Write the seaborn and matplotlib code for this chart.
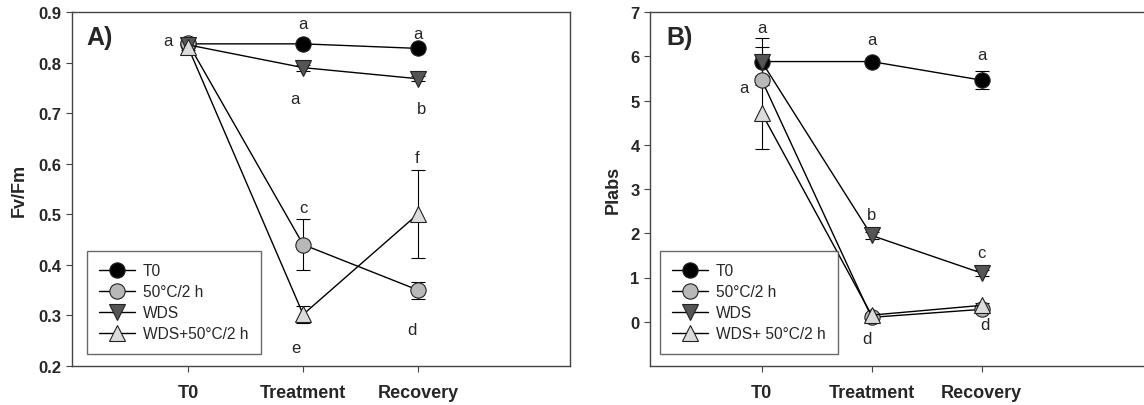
import numpy as np
import pandas as pd
import seaborn as sns
import matplotlib.pyplot as plt
from matplotlib.lines import Line2D

# x categories and treatment groups
stages = ["T0", "Treatment", "Recovery"]
groups = ["T0", "50°C/2 h", "WDS", "WDS+50°C/2 h"]
legend_b = ["T0", "50°C/2 h", "WDS", "WDS+ 50°C/2 h"]

# panel A: Fv/Fm means and error
fvfm_t0 = [0.837, 0.837, 0.828]
fvfm_50 = [0.838, 0.440, 0.350]
fvfm_wds = [0.835, 0.790, 0.768]
fvfm_wds50 = [0.830, 0.302, 0.501]
fvfm_t0_err = [0.003, 0.004, 0.006]
fvfm_50_err = [0.004, 0.050, 0.017]
fvfm_wds_err = [0.004, 0.006, 0.005]
fvfm_wds50_err = [0.005, 0.016, 0.087]

# panel B: PIabs means and error
pi_t0 = [5.88, 5.88, 5.46]
pi_50 = [5.47, 0.10, 0.28]
pi_wds = [5.88, 1.95, 1.10]
pi_wds50 = [4.72, 0.15, 0.37]
pi_t0_err = [0.32, 0.06, 0.20]
pi_50_err = [0.05, 0.05, 0.05]
pi_wds_err = [0.54, 0.08, 0.06]
pi_wds50_err = [0.82, 0.05, 0.05]

# significance letters (x index, y value, letter)
letters_a = [(-0.18, 0.844, "a"), (1.0, 0.877, "a"), (2.0, 0.858, "a"),
             (0.93, 0.728, "a"), (2.03, 0.710, "b"), (1.0, 0.514, "c"),
             (1.99, 0.613, "f"), (1.95, 0.273, "d"), (0.94, 0.236, "e")]
letters_b = [(0.0, 6.66, "a"), (-0.16, 5.30, "a"), (1.0, 6.37, "a"),
             (2.0, 6.05, "a"), (1.0, 2.42, "b"), (2.0, 1.56, "c"),
             (0.96, -0.37, "d"), (2.03, -0.07, "d")]

sns.set_style("ticks")
plt.rcParams['font.family'] = ['Liberation Sans', 'DejaVu Sans']

fills = ["#000000", "#b8b8b8", "#555555", "#dcdcdc"]
markers = ["o", "o", "v", "^"]
sizes = [11, 11, 11, 11]


def make_df(vals, errs):
    rows = []
    for g, v, e in zip(groups, vals, errs):
        for i, s in enumerate(stages):
            rows.append({"group": g, "stage": s, "pos": i, "value": v[i], "err": e[i]})
    return pd.DataFrame(rows)


df_a = make_df([fvfm_t0, fvfm_50, fvfm_wds, fvfm_wds50],
               [fvfm_t0_err, fvfm_50_err, fvfm_wds_err, fvfm_wds50_err])
df_b = make_df([pi_t0, pi_50, pi_wds, pi_wds50],
               [pi_t0_err, pi_50_err, pi_wds_err, pi_wds50_err])

fig = plt.figure(figsize=(11.44, 4.06), dpi=100)
ax1 = fig.add_axes([72 / 1144, 39 / 406, 498 / 1144, 354 / 406])
ax2 = fig.add_axes([650 / 1144, 39 / 406, 502 / 1144, 354 / 406])


def draw(ax, df, letters, labels, ylabel, ylim, yticks, panel, px, lx):
    for k, g in enumerate(groups):
        sub = df[df["group"] == g]
        ax.errorbar(sub["pos"], sub["value"], yerr=sub["err"], fmt="none",
                    ecolor="black", elinewidth=0.8, capsize=5, capthick=0.8, zorder=1)
        sns.lineplot(data=sub, x="pos", y="value", ax=ax, color="black",
                     linewidth=1, marker=markers[k], markersize=sizes[k],
                     markerfacecolor=fills[k], markeredgecolor="#222222",
                     markeredgewidth=0.8, zorder=2 + k)
    for x, y, t in letters:
        ax.text(x, y, t, ha="center", va="center", fontsize=12)
    ax.set_ylim(*ylim)
    ax.set_yticks(yticks)
    ax.set_xticks(range(len(stages)))
    ax.set_xticklabels(stages, fontsize=13, fontweight="bold")
    ax.tick_params(axis="x", pad=9, length=4, color="#444444")
    ax.tick_params(axis="y", labelsize=12, length=4, color="#444444")
    for lab in ax.get_yticklabels():
        lab.set_fontweight("bold")
    ax.set_xlabel("")
    ax.set_ylabel(ylabel, fontsize=13, fontweight="bold", labelpad=8)
    for sp in ax.spines.values():
        sp.set_color("#444444")
        sp.set_linewidth(1)
    ax.text(px, 0.93, panel, transform=ax.transAxes, fontsize=18,
            fontweight="bold", va="center", ha="left")
    handles = [Line2D([0], [0], color="black", linewidth=1, marker=markers[k],
                      markersize=sizes[k], markerfacecolor=fills[k],
                      markeredgecolor="#222222", markeredgewidth=0.8, label=labels[k])
               for k in range(len(groups))]
    leg = ax.legend(handles=handles, loc="lower left", bbox_to_anchor=(lx, 0.035),
                    borderaxespad=0, fontsize=11.2, frameon=True, fancybox=False,
                    edgecolor="#444444", handlelength=2.3, labelspacing=0.38,
                    borderpad=0.8, handletextpad=0.5)
    leg.get_frame().set_linewidth(1)


draw(ax1, df_a, letters_a, groups, "Fv/Fm", (0.2, 0.9),
     [0.2, 0.3, 0.4, 0.5, 0.6, 0.7, 0.8, 0.9], "A)", 0.028, 0.03)
ax1.set_xlim(-1.01, 3.32)
ax1.set_yticklabels([f"{v:.1f}" for v in [0.2, 0.3, 0.4, 0.5, 0.6, 0.7, 0.8, 0.9]],
                    fontweight="bold")

draw(ax2, df_b, letters_b, legend_b, "PIabs", (-1, 7), list(range(0, 8)), "B)", 0.032, 0.02)
ax2.set_xlim(-1.015, 3.55)
ax2.yaxis.labelpad = 6

fig.savefig("out.png", dpi=100)
